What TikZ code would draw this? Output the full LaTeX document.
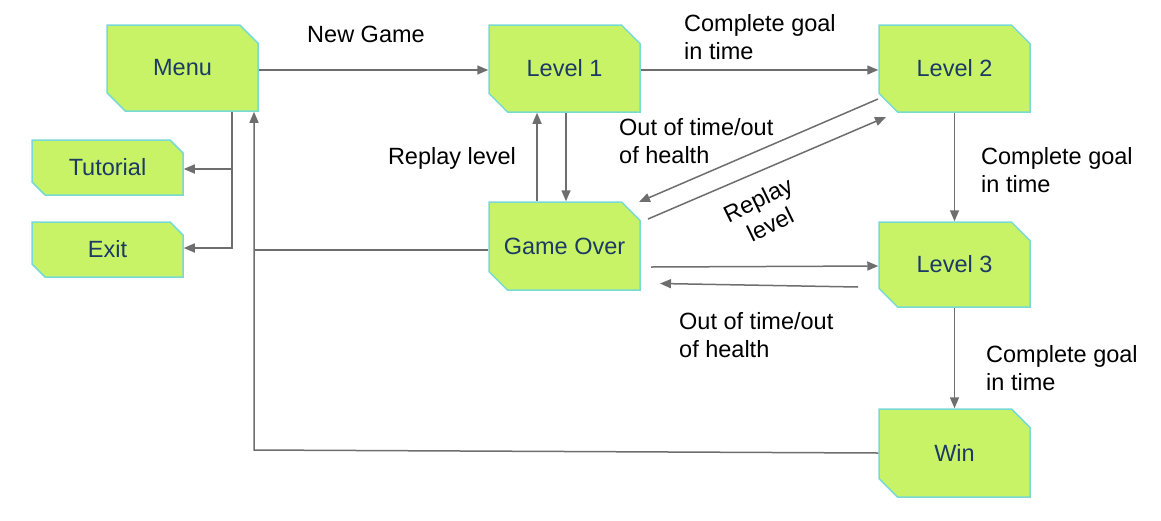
\documentclass[tikz,border=0pt]{standalone}
\usepackage{fontspec}
\setmainfont{Liberation Sans}
\usetikzlibrary{shapes.misc,arrows.meta}
\definecolor{boxfill}{RGB}{200,243,103}
\definecolor{boxline}{RGB}{120,218,212}
\definecolor{boxtext}{RGB}{28,58,100}
\definecolor{lnk}{RGB}{110,110,110}
\begin{document}
\begin{tikzpicture}[x=1pt,y=-1pt,
 state/.style={chamfered rectangle, chamfered rectangle corners={north east,south west},
   chamfered rectangle xsep=10pt, chamfered rectangle ysep=10pt, fill=boxfill, draw=boxline,
   line width=1.5pt, minimum width=151pt, inner sep=0pt, text=boxtext,
   font=\fontsize{23.5}{28}\selectfont},
 small/.style={chamfered rectangle xsep=6.5pt, chamfered rectangle ysep=6.5pt},
 arr/.style={draw=lnk, line width=1.5pt, -{Triangle[length=11pt,width=9pt]}},
 ln/.style={draw=lnk, line width=1.5pt},
 lbl/.style={font=\fontsize{23.5}{28}\selectfont, align=left, inner sep=0pt, anchor=west}]
\useasboundingbox (0,0) rectangle (1161,520);
\node[state, minimum height=86pt] (menu) at (182.5,68) {Menu};
\node[state, small, minimum height=55pt] (tut) at (107.5,167.5) {Tutorial};
\node[state, small, minimum height=55pt] (exit) at (107.5,249.5) {Exit};
\node[state, minimum height=87pt] (l1) at (564.5,68.5) {Level 1};
\node[state, minimum height=87pt] (l2) at (954.5,68.5) {Level 2};
\node[state, minimum height=88pt] (go) at (564.5,246) {Game Over};
\node[state, minimum height=85pt] (l3) at (954.5,264.5) {Level 3};
\node[state, minimum height=88pt] (win) at (954.5,453) {Win};
% connectors
\draw[arr] ([yshift=-2pt]menu.east) -- ([yshift=-1.5pt]l1.west);
\draw[arr] ([yshift=-1.5pt]l1.east) -- ([yshift=-1.5pt]l2.west);
\draw[arr] ([xshift=49.5pt]menu.south) |- ([yshift=-1.5pt]tut.east);
\draw[arr] ([xshift=49.5pt]menu.south) |- ([yshift=1.5pt]exit.east);
\coordinate (back) at (254,450);
\draw[arr] (win.west) -- (back) -- ([xshift=71.5pt]menu.south);
\draw[ln] ([yshift=-4pt]go.west) -- ([yshift=-4pt]go.west -| back);
\draw[arr] ([xshift=-27.5pt]go.north) -- ([xshift=-27.5pt]l1.south);
\draw[arr] ([xshift=1.5pt]l1.south) -- ([xshift=1.5pt]go.north);
\coordinate (a1) at (878,99); \coordinate (b1) at (639,202);
\draw[arr] (a1) -- (b1);
\coordinate (a2) at (648,219); \coordinate (b2) at (886,117);
\draw[arr] (a2) -- (b2);
\coordinate (a3) at (651,267);
\draw[arr] (a3) -- ([yshift=-1.5pt]l3.west);
\coordinate (a4) at (858,287); \coordinate (b4) at (660,283.5);
\draw[arr] (a4) -- (b4);
\draw[arr] (l2.south) -- (l3.north);
\draw[arr] (l3.south) -- (win.north);
% labels
\node[lbl, anchor=center] (ng) at (366,34) {New Game};
\node[lbl] (c1) at (684,37) {Complete goal\\in time};
\node[lbl, anchor=center] (rl) at (452,158) {Replay level};
\node[lbl] (o1) at (619,141) {Out of time/out\\of health};
\node[lbl, anchor=center, align=center, rotate=26] (rl2) at (764,212) {Replay\\level};
\node[lbl] (c2) at (981,170) {Complete goal\\in time};
\node[lbl] (o2) at (679,335) {Out of time/out\\of health};
\node[lbl] (c3) at (986,368) {Complete goal\\in time};
\end{tikzpicture}
\end{document}
